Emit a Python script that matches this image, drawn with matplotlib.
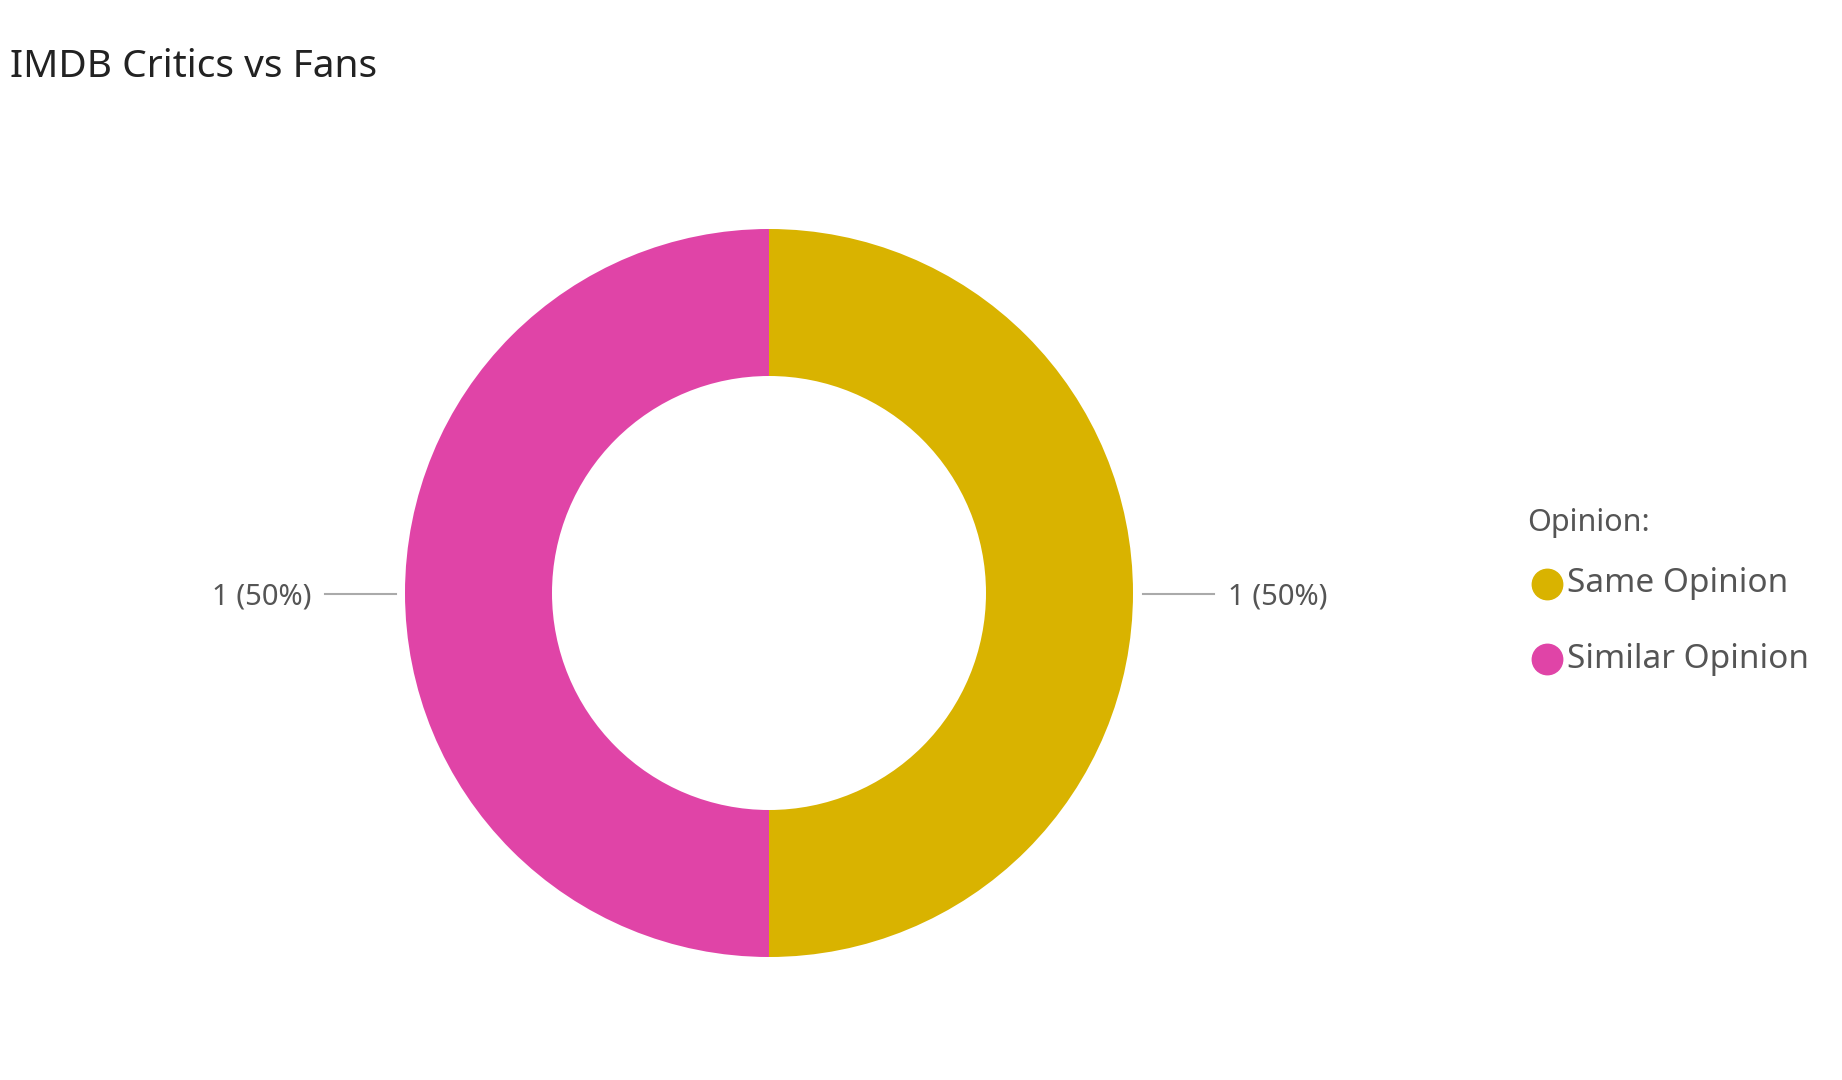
import matplotlib
matplotlib.use("Agg")
import matplotlib.pyplot as plt

categories = ["Same Opinion", "Similar Opinion"]
values = [1, 1]
colors = ["#D9B300", "#E044A7"]
title = "IMDB Critics vs Fans"
legend_title = "Opinion:"

W, H = 1842, 1080
fig = plt.figure(figsize=(W/100, H/100), dpi=100)
ax = fig.add_axes([0, 0, 1, 1])
ax.set_xlim(0, W); ax.set_ylim(0, H); ax.set_aspect("equal"); ax.axis("off")

cx, cy, r = 769, 487, 364
ax.pie(values, colors=colors, startangle=90, counterclock=False,
       center=(cx, cy), radius=r, wedgeprops=dict(width=147, linewidth=0),
       frame=True)
ax.set_xlim(0, W); ax.set_ylim(0, H); ax.axis("off")

total = sum(values)
lab = [f"{v} ({v/total:.0%})" for v in values]
ly = 486
ax.plot([1143, 1214], [ly, ly], color="#AAAAAA", lw=1.5)
ax.plot([325, 396], [ly, ly], color="#AAAAAA", lw=1.5)
ax.text(1228, ly - 3, lab[0], fontsize=21, color="#555555", va="center", ha="left", family="Noto Sans")
ax.text(311, ly - 3, lab[1], fontsize=21, color="#555555", va="center", ha="right", family="Noto Sans")

fig.text(10/W, 1 - 67/H, title, fontsize=28, color="#222222", va="center", ha="left", family="Noto Sans")

ax.text(1527, H - 523, legend_title, fontsize=22, fontweight="bold", color="#555555", va="center", family="Noto Sans")
for i, (c, col) in enumerate(zip(categories, colors)):
    y = H - (584 + i * 75)
    ax.scatter([1547], [y], s=480, color=col, zorder=5)
    ax.text(1567, y, c, fontsize=24, color="#555555", va="center", family="Noto Sans")

fig.savefig("out.png", dpi=100, facecolor="white")
